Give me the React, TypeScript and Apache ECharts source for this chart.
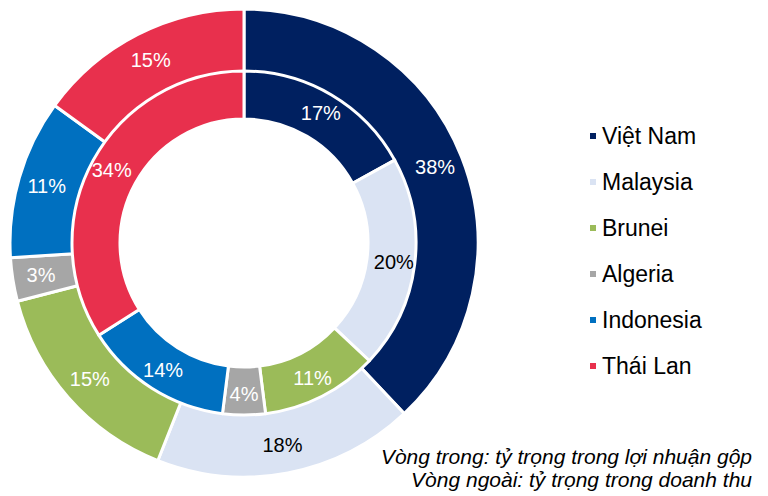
import React, { useEffect, useRef } from "react";
import * as echarts from "echarts";

const categories = ["Việt Nam", "Malaysia", "Brunei", "Algeria", "Indonesia", "Thái Lan"];
const outerValues = [38, 18, 15, 3, 11, 15]; // doanh thu
const innerValues = [17, 20, 11, 4, 14, 34]; // lợi nhuận gộp
const colors = ["#002060", "#dae3f3", "#9bbb59", "#a6a6a6", "#0070c0", "#e8304d"];
const labelColors = ["#ffffff", "#000000", "#ffffff", "#ffffff", "#ffffff", "#ffffff"];
const noteLines = ["Vòng trong: tỷ trọng trong lợi nhuận gộp", "Vòng ngoài: tỷ trọng trong doanh thu"];

export default function App() {
  const ref = useRef<HTMLDivElement>(null);
  useEffect(() => {
    document.body.style.margin = "0";
    if (!ref.current) return;
    const chart = echarts.init(ref.current, null, { renderer: "svg" });
    const makeData = (vals: number[]) =>
      vals.map((v, i) => ({
        name: categories[i],
        value: v,
        itemStyle: { color: colors[i] },
        label: { color: labelColors[i] },
      }));
    const font = "Liberation Sans, Arial, sans-serif";
    chart.setOption({
      animation: false,
      backgroundColor: "#ffffff",
      legend: {
        orient: "vertical",
        left: 583,
        top: 118,
        icon: "rect",
        itemWidth: 8,
        itemHeight: 8,
        itemGap: 20,
        data: categories,
        textStyle: { fontFamily: font, fontSize: 23, color: "#000", lineHeight: 26 },
        selectedMode: false,
      },
      series: [
        {
          type: "pie",
          name: "outer",
          center: [244, 243],
          radius: [171, 234],
          startAngle: 90,
          clockwise: true,
          data: makeData(outerValues),
          itemStyle: { borderColor: "#ffffff", borderWidth: 3 },
          label: { show: true, position: "inside", formatter: "{c}%", fontSize: 20, fontFamily: font },
          labelLine: { show: false },
          emphasis: { disabled: true },
        },
        {
          type: "pie",
          name: "inner",
          center: [244, 243],
          radius: [124, 172],
          startAngle: 90,
          clockwise: true,
          data: makeData(innerValues),
          itemStyle: { borderColor: "#ffffff", borderWidth: 3 },
          label: { show: true, position: "inside", formatter: "{c}%", fontSize: 20, fontFamily: font },
          labelLine: { show: false },
          emphasis: { disabled: true },
        },
      ],
      graphic: noteLines.map((t, i) => ({
        type: "text",
        right: 16,
        top: 446 + i * 23,
        style: {
          text: t,
          font: `italic 21px ${font}`,
          fill: "#000",
          textAlign: "right",
        },
      })),
    });
    return () => chart.dispose();
  }, []);
  return <div ref={ref} style={{ width: 768, height: 496 }} />;
}
